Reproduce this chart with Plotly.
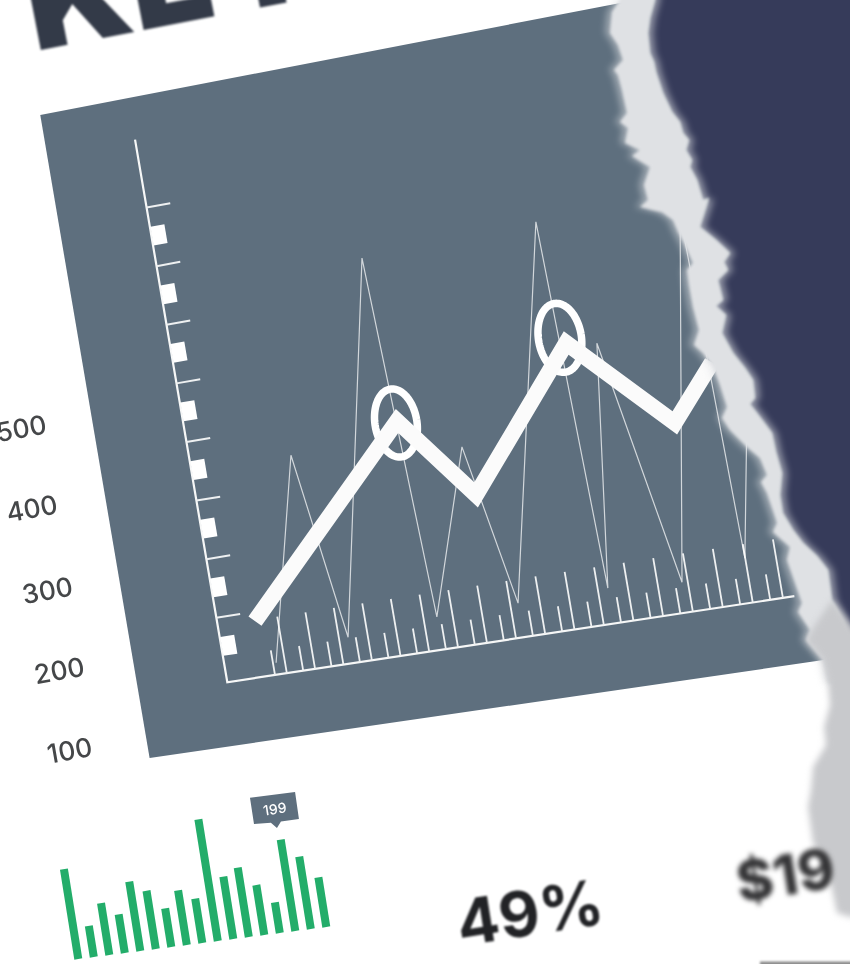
import math
import plotly.graph_objects as go

# ---- line chart data (x in tick units, y in axis units) ----
short_tick_x = [float(k) for k in [0,1,2,3,4,5,6,7,8,9,10,11,12,13,14,15,16,17]]
long_tick_x = [k + 0.42 for k in short_tick_x]
short_tick_h = 0.42
long_tick_h = 0.96
y_tick_vals = [1.1, 2.1, 3.1, 4.1, 5.1, 6.1, 7.1, 8.1]
y_block_vals = [0.61, 1.61, 2.61, 3.61, 4.61, 5.61, 6.61, 7.61]
thin_x = [0.11, 1.84, 2.74, 5.41, 5.88, 7.70, 8.69, 11.44, 11.76, 12.77, 14.23, 16.20, 16.41, 17.23]
thin_y = [0.20, 3.59, 0.44, 6.62, 0.55, 3.26, 0.57, 6.70, 0.59, 4.57, 0.50, 6.39, 0.73, 2.93]
thick_x = [-0.375, 5.66, 7.90, 11.76, 14.88, 16.42]
thick_y = [0.946, 3.86, 2.44, 4.66, 3.08, 3.95]
ring_x = [5.61, 11.58]
ring_y = [3.83, 4.76]
axis_left = -1.7
axis_top = 9.26
axis_right = 17.8
panel_x = [-4.88, 15.41, 22.0, 22.0, 18.44, -4.88]
panel_y = [9.97, 9.95, 9.95, -1.09, -1.09, -1.07]

# ---- green bars ----
bar_values = [196, 68, 113, 84, 151, 127, 84, 119, 97, 265, 136, 151, 109, 67, 199, 158, 108]
bar_callout_index = 14

# ---- text ----
y_labels = ["500", "400", "300", "200", "100"]
title_text = "KEY"
stat_a = "49%"
stat_b = "$19"

W, H = 850, 964
SLATE = "#5e6f7e"
NAVY = "#363b5a"
WHITE = "#f6f7f7"
GREEN = "#23ad6a"
FONT = "Inter, Lato, sans-serif"


def proj(x, y):
    """Chart units to page pixels: the chart is printed on a tilted sheet."""
    w = 1 - 0.002 * x
    return 275 + (28.14 * x - 10.0 * y) / w, 675 + (-4.27 * x - 58.8 * y) / w


def bar_proj(i, v):
    return 78.3 + 15.5 * i - 0.0733 * v, 959 - 2.0 * i - 0.4587 * v


def polyline(pts, f=proj):
    out = [f(a, b) for a, b in pts]
    return [p[0] for p in out], [p[1] for p in out]


def segments(segs, f=proj):
    xs, ys = [], []
    for seg in segs:
        a, b = polyline(seg, f)
        xs += a + [None]
        ys += b + [None]
    return xs, ys


def mitred(xs, ys, half):
    """Outline of a wide polyline with sharp mitred corners."""
    n = len(xs)
    left, right = [], []
    for i in range(n):
        dirs = []
        if i > 0:
            dirs.append((xs[i] - xs[i - 1], ys[i] - ys[i - 1]))
        if i < n - 1:
            dirs.append((xs[i + 1] - xs[i], ys[i + 1] - ys[i]))
        norms = []
        for dx, dy in dirs:
            l = math.hypot(dx, dy)
            norms.append((-dy / l, dx / l))
        mx = sum(a for a, _ in norms) / len(norms)
        my = sum(b for _, b in norms) / len(norms)
        ml = math.hypot(mx, my)
        mx, my = mx / ml, my / ml
        k = half / (mx * norms[0][0] + my * norms[0][1])
        left.append((xs[i] + mx * k, ys[i] + my * k))
        right.append((xs[i] - mx * k, ys[i] - my * k))
    loop = left + right[::-1] + left[:1]
    return [p[0] for p in loop], [p[1] for p in loop]


fig = go.Figure()


def add_line(xs, ys, color, width):
    fig.add_trace(go.Scatter(x=xs, y=ys, mode="lines", line=dict(color=color, width=width, simplify=False),
                             hoverinfo="skip", showlegend=False))


def add_fill(xs, ys, color):
    fig.add_trace(go.Scatter(x=xs, y=ys, mode="lines", fill="toself", fillcolor=color,
                             line=dict(color=color, width=0), hoverinfo="skip", showlegend=False))


# panel
px_, py_ = polyline(list(zip(panel_x, panel_y)))
add_fill(px_ + px_[:1], py_ + py_[:1], SLATE)

# axes and ticks
add_line(*polyline([(axis_left, axis_top), (axis_left, 0), (axis_right, 0)]), WHITE, 2.2)
add_line(*segments([[(t, 0), (t, short_tick_h)] for t in short_tick_x]), "#eef0f1", 1.8)
add_line(*segments([[(t, 0), (t, long_tick_h)] for t in long_tick_x]), "#eef0f1", 1.8)
add_line(*segments([[(axis_left, v), (axis_left + 0.85, v)] for v in y_tick_vals]), "#eef0f1", 2)
for v in y_block_vals:
    cx = axis_left + 0.27
    sq = [(cx - 0.25, v - 0.16), (cx + 0.25, v - 0.16), (cx + 0.25, v + 0.16), (cx - 0.25, v + 0.16), (cx - 0.25, v - 0.16)]
    add_fill(*polyline(sq), "#ffffff")

# thin series
add_line(*polyline(list(zip(thin_x, thin_y))), "rgba(255,255,255,0.72)", 1.2)

# rings
for cx, cy in zip(ring_x, ring_y):
    ring = [(cx + 0.72 * math.cos(t * math.pi / 60), cy + 0.57 * math.sin(t * math.pi / 60)) for t in range(121)]
    add_line(*polyline(ring), "#ffffff", 7.5)

# thick series
tx, ty = polyline(list(zip(thick_x, thick_y)))
add_fill(*mitred(tx, ty, 8), "#fbfbfb")

# green bars
add_line(*segments([[(i, 0), (i, v)] for i, v in enumerate(bar_values)], bar_proj), GREEN, 8)

# callout over the highlighted bar
c = bar_callout_index
tag = [(c - 1.52, 297), (c + 1.39, 297), (c + 1.36, 238), (c + 0.2, 238), (c - 0.12, 225), (c - 0.45, 238), (c - 1.53, 240), (c - 1.52, 297)]
add_fill(*polyline(tag, bar_proj), SLATE)

# torn page: navy backing and the ragged white core of the tear
navy_edge = [(655,-20),(655,0),(650,18),(648,33),(650,53),(654,62),(656,72),(663,93),(672,112),(680,122),(683,133),(689,140),(686,150),(692,160),(690,167),(697,180),
             (703,200),(709,198),(700,227),(716,240),(730,253),(724,262),(728,270),(718,280),(723,300),(716,306),(726,315),(722,333),(733,353),(745,368),
             (753,380),(755,398),(750,404),(757,413),(772,433),(776,452),(782,473),(780,495),(783,513),(793,530),(803,543),(817,556),
             (828,570),(832,600),(843,620),(850,640),(870,650)]
tear_left_top = [(620,-20),(620,0),(612,12),(610,33),(618,45),(623,60),(614,70),(618,75),(622,90),(627,113),(620,122),(628,128),(625,143),(640,150),(632,156),(650,167),(644,185),
                 (648,200),(640,207),(662,212),(673,220),(678,232),(684,243),(693,263),(687,270),(689,285),(693,307),(699,330),(694,345),(703,353),(713,367),
                 (720,385),(727,407),(722,418),(730,430),(740,440),(747,447),(760,458),(767,475),(761,482),(767,493),(777,523),(773,532),(790,547),
                 (787,560),(793,577),(802,603),(798,612),(810,630),(806,640),(823,660)]
tear_left_low = [(828,683),(830,705),(824,727),(826,745),(813,767),(811,790),(808,807),(813,843),(822,860),(830,880),(837,913),(850,917),(870,917)]


def path(points):
    return "M " + " L ".join(f"{a},{b}" for a, b in points) + " Z"


tear_outline = tear_left_top + tear_left_low[:1] + [(870, 683), (870, 650)] + navy_edge[::-1]


def shifted(points, dx):
    return [(a + dx, b) for a, b in points]


shapes = [
    dict(type="path", path=path(navy_edge + [(870, -20)]), fillcolor=NAVY, line=dict(width=0), layer="above"),
    dict(type="path", path=path(shifted(tear_outline, -5)), fillcolor="#dfe1e4", opacity=0.5, line=dict(width=0), layer="above"),
    dict(type="path", path=path(shifted(tear_outline, 5)), fillcolor="#dfe1e4", opacity=0.55, line=dict(width=0), layer="above"),
    dict(type="path", path=path(tear_outline), fillcolor="#dfe1e4", line=dict(width=0), layer="above"),
    dict(type="path", path=path([(806, 640), (823, 660)] + tear_left_low + [(870, 650), (832, 600), (815, 625)]),
         fillcolor="#c8c9cc", line=dict(width=0), layer="above"),
    dict(type="rect", x0=760, x1=870, y0=961.5, y1=980, fillcolor="#8c8c8c", line=dict(width=0), layer="above"),
]


def note(text, cx, cy, size, color, angle, weight=500):
    return dict(text=text, x=cx / W, y=1 - cy / H, xref="paper", yref="paper", showarrow=False,
                xanchor="center", yanchor="middle", textangle=angle,
                font=dict(family=FONT, size=size, color=color, weight=weight))


label_pos = [(21, 428), (32, 508), (47, 590), (59, 670), (69, 750)]
annotations = [note(t, x, y, 26.5, "#454749", -10) for t, (x, y) in zip(y_labels, label_pos)]
annotations += [
    note(title_text, 170, -27, 138, "#333a48", -11, 900),
    note(stat_a, 530, 912, 63, "#222326", -9, 700),
    note(stat_b, 785, 875, 56, "#333335", -9, 800),
    note(str(bar_values[c]), 275, 808, 14, "#ffffff", -9, 500),
]

fig.update_layout(
    width=W, height=H, margin=dict(l=0, r=0, t=0, b=0), showlegend=False,
    paper_bgcolor="#ffffff", plot_bgcolor="#ffffff",
    xaxis=dict(range=[0, W], visible=False, fixedrange=True),
    yaxis=dict(range=[H, 0], visible=False, fixedrange=True),
    shapes=shapes, annotations=annotations,
)
soften = """
document.body.style.margin='0';document.documentElement.style.overflow='hidden';
var blurs=[1.2,3.5,3.5,1.8,3,0.8];
document.querySelectorAll('.shapelayer path').forEach(function(p,i){p.style.filter='blur('+(blurs[i]||1.5)+'px)';});
document.querySelectorAll('.scatterlayer').forEach(function(p){p.style.filter='blur(0.5px)';});
var amounts={0:0.7,1:0.7,2:0.7,3:0.7,4:0.7,5:1.2,6:0.9,7:2.4,8:0.4};
Object.keys(amounts).forEach(function(k){
  var g=document.querySelector('.annotation[data-index="'+k+'"]');
  if(g){g.style.filter='blur('+amounts[k]+'px)';}
});
"""
fig.write_html("out.html", config=dict(displayModeBar=False), post_script=soften)
